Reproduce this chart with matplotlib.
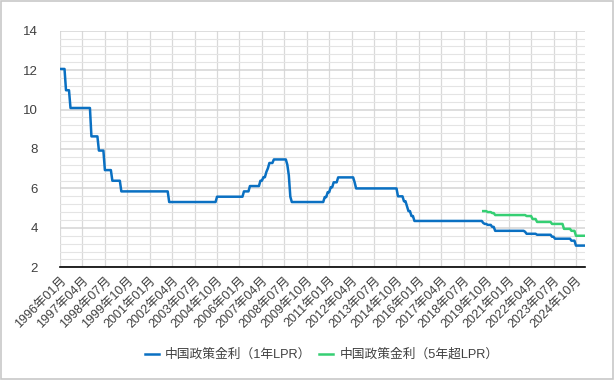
import numpy as np
import pandas as pd
import matplotlib
matplotlib.use('Agg')
import matplotlib.pyplot as plt
from matplotlib.patches import Rectangle

plt.rcParams['font.family'] = ['Liberation Sans', 'Noto Sans CJK JP', 'DejaVu Sans']

# policy rate change points (month in which the new rate shows up, %)
lpr1_months = ['1996-01', '1996-05', '1996-08', '1997-10', '1998-03', '1998-07',
               '1998-12', '1999-06', '2002-02', '2004-10', '2006-04', '2006-08',
               '2007-03', '2007-05', '2007-07', '2007-08', '2007-09', '2007-12',
               '2008-09', '2008-10', '2008-11', '2008-12', '2010-10', '2010-12',
               '2011-02', '2011-04', '2011-07', '2012-06', '2012-07', '2014-11',
               '2015-03', '2015-05', '2015-06', '2015-08', '2015-10', '2019-08',
               '2019-09', '2019-11', '2020-02', '2020-04', '2021-12', '2022-01',
               '2022-08', '2023-06', '2023-08', '2024-07', '2024-10']
lpr1_rates = [12.06, 10.98, 10.08, 8.64, 7.92, 6.93,
              6.39, 5.85, 5.31, 5.58, 5.85, 6.12,
              6.39, 6.57, 6.84, 7.02, 7.29, 7.47,
              7.20, 6.66, 5.58, 5.31, 5.56, 5.81,
              6.06, 6.31, 6.56, 6.31, 6.00, 5.60,
              5.35, 5.10, 4.85, 4.60, 4.35, 4.25,
              4.20, 4.15, 4.05, 3.85, 3.80, 3.70,
              3.65, 3.55, 3.45, 3.35, 3.10]

lpr5_months = ['2019-08', '2019-11', '2020-02', '2020-04', '2022-01', '2022-05',
               '2022-08', '2023-06', '2024-02', '2024-07', '2024-10']
lpr5_rates = [4.85, 4.80, 4.75, 4.65, 4.60, 4.45,
              4.30, 4.20, 3.95, 3.85, 3.60]

start_month = '1996-01'
end_month = '2025-04'

months = pd.period_range(start_month, end_month, freq='M')
s1 = pd.Series(lpr1_rates, index=pd.PeriodIndex(lpr1_months, freq='M')).reindex(months).ffill()
s5 = pd.Series(lpr5_rates, index=pd.PeriodIndex(lpr5_months, freq='M')).reindex(months).ffill()

x = np.arange(len(months))
tick_idx = x[::15]
tick_labels = [f'{m.year}年{m.month:02d}月' for m in months[::15]]

fig = plt.figure(figsize=(6.15, 3.8), dpi=100)
fig.patches.append(Rectangle((0.002, 0.003), 0.994, 0.994, transform=fig.transFigure,
                             fill=False, edgecolor='#c8c8c8', lw=1.2))
ax = fig.add_axes([0.0976, 0.2966, 0.8535, 0.6226])

ax.plot(x, s1.values, color='#0a70c2', lw=1.8, label='中国政策金利（1年LPR）')
ax.plot(x, s5.values, color='#35cf73', lw=1.8, label='中国政策金利（5年超LPR）')

ax.set_xlim(0, len(months) - 1)
ax.set_ylim(2, 14)
ax.set_yticks(np.arange(2, 15, 2))
ax.set_yticks(np.arange(2, 14.01, 0.4), minor=True)
ax.set_xticks(tick_idx)
ax.set_xticklabels(tick_labels, rotation=45, ha='right', rotation_mode='anchor',
                   fontsize=9, color='#404040')
ax.tick_params(axis='y', labelsize=9.5, colors='#404040', length=0, pad=16, which='both')
ax.tick_params(axis='x', length=0, pad=5)

ax.grid(True, axis='y', which='major', color='#d4d4d4', lw=1.1)
ax.grid(True, axis='y', which='minor', color='#e4e4e4', lw=0.8)
ax.grid(True, axis='x', which='major', color='#d9d9d9', lw=0.9)
ax.set_axisbelow(True)

for side in ['top', 'right', 'left']:
    ax.spines[side].set_visible(False)
ax.spines['bottom'].set_color('black')
ax.spines['bottom'].set_linewidth(1.2)

fig.legend(loc='center', bbox_to_anchor=(0.523, 0.066), ncol=2, frameon=False,
           fontsize=9.2, handlelength=1.1, columnspacing=0.6, handletextpad=0.5,
           labelcolor='#404040')

fig.savefig('out.png', dpi=100)
